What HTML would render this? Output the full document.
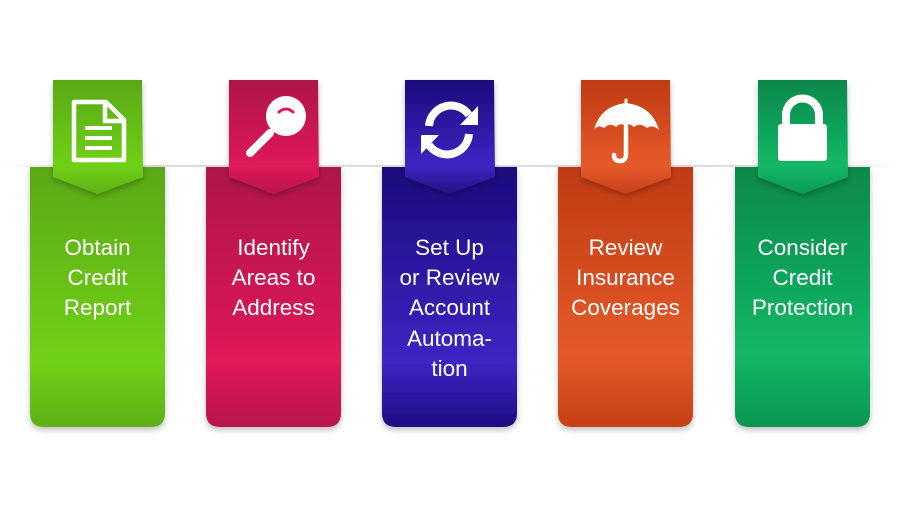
<!DOCTYPE html>
<html><head><meta charset="utf-8"><style>
body{margin:0;background:#fff;width:900px;height:506px;overflow:hidden}
text{font-family:"Liberation Sans",sans-serif;font-size:22.5px;fill:#fff;text-anchor:middle}
</style></head><body>
<svg width="900" height="506" viewBox="0 0 900 506" xmlns="http://www.w3.org/2000/svg">
<defs>
<linearGradient id="line" x1="0" x2="1"><stop offset="0" stop-color="#ddd" stop-opacity="0"/><stop offset=".1" stop-color="#ddd"/><stop offset=".9" stop-color="#ddd"/><stop offset="1" stop-color="#ddd" stop-opacity="0"/></linearGradient>
<filter id="sh" x="-20%" y="-10%" width="140%" height="130%"><feDropShadow dx="0" dy="3" stdDeviation="3" flood-color="#000" flood-opacity=".25"/></filter>
<linearGradient id="c1" x1="0" y1="0" x2="0" y2="1"><stop offset="0" stop-color="#5aa812"/><stop offset=".75" stop-color="#70d116"/><stop offset="1" stop-color="#5eb012"/></linearGradient>
<linearGradient id="c2" x1="0" y1="0" x2="0" y2="1"><stop offset="0" stop-color="#ae1248"/><stop offset=".75" stop-color="#e01a5a"/><stop offset="1" stop-color="#b8144c"/></linearGradient>
<linearGradient id="c3" x1="0" y1="0" x2="0" y2="1"><stop offset="0" stop-color="#1b0a7c"/><stop offset=".75" stop-color="#3e25c4"/><stop offset="1" stop-color="#1e0c84"/></linearGradient>
<linearGradient id="c4" x1="0" y1="0" x2="0" y2="1"><stop offset="0" stop-color="#c03a12"/><stop offset=".72" stop-color="#e55a2a"/><stop offset="1" stop-color="#c63f15"/></linearGradient>
<linearGradient id="c5" x1="0" y1="0" x2="0" y2="1"><stop offset="0" stop-color="#0f884b"/><stop offset=".72" stop-color="#12b866"/><stop offset="1" stop-color="#0f9552"/></linearGradient>
<linearGradient id="t1" x1="0" y1="0" x2="0" y2="1"><stop offset="0" stop-color="#5aa812"/><stop offset=".75" stop-color="#6fd016"/><stop offset="1" stop-color="#5fb213"/></linearGradient>
<linearGradient id="t2" x1="0" y1="0" x2="0" y2="1"><stop offset="0" stop-color="#ae1248"/><stop offset=".75" stop-color="#e01a5a"/><stop offset="1" stop-color="#b8144c"/></linearGradient>
<linearGradient id="t3" x1="0" y1="0" x2="0" y2="1"><stop offset="0" stop-color="#1b0a7c"/><stop offset=".75" stop-color="#3e25c4"/><stop offset="1" stop-color="#221082"/></linearGradient>
<linearGradient id="t4" x1="0" y1="0" x2="0" y2="1"><stop offset="0" stop-color="#c03a12"/><stop offset=".75" stop-color="#e55a2a"/><stop offset="1" stop-color="#c8401a"/></linearGradient>
<linearGradient id="t5" x1="0" y1="0" x2="0" y2="1"><stop offset="0" stop-color="#0f884b"/><stop offset=".75" stop-color="#12b866"/><stop offset="1" stop-color="#109a55"/></linearGradient>
</defs>
<rect x="0" y="165" width="900" height="2" fill="url(#line)"/>
<g filter="url(#sh)">
<path d="M30 167H165V413Q165 427 151 427H44Q30 427 30 413Z" fill="url(#c1)"/>
<path d="M206 167H341V413Q341 427 327 427H220Q206 427 206 413Z" fill="url(#c2)"/>
<path d="M382 167H517V413Q517 427 503 427H396Q382 427 382 413Z" fill="url(#c3)"/>
<path d="M558 167H693V413Q693 427 679 427H572Q558 427 558 413Z" fill="url(#c4)"/>
<path d="M735 167H870V413Q870 427 856 427H749Q735 427 735 413Z" fill="url(#c5)"/>
</g>
<g filter="url(#sh)">
<path d="M53 80H142L143 177L97.5 194L53 177Z" fill="url(#t1)"/>
<path d="M229 80H318L319 177L273.5 194L229 177Z" fill="url(#t2)"/>
<path d="M405 80H494L495 177L449.5 194L405 177Z" fill="url(#t3)"/>
<path d="M581 80H670L671 177L625.5 194L581 177Z" fill="url(#t4)"/>
<path d="M758 80H847L848 177L802.5 194L758 177Z" fill="url(#t5)"/>
</g>
<!-- icons -->
<g fill="none" stroke="#fff" stroke-width="4.5">
<path d="M74 102H106L124 120V160H74Z" stroke-linejoin="round"/>
<path d="M105 102V121H124"/>
<path d="M85 128H112M85 138H112M85 148H112" stroke-width="4"/>
</g>
<circle cx="286" cy="116" r="20" fill="#fff"/>
<path d="M270 133L250 153" stroke="#fff" stroke-width="8" stroke-linecap="round"/>
<path d="M279 112Q286 106 293 112" stroke="#e0195a" stroke-width="3" fill="none" stroke-linecap="round"/>
<g fill="none" stroke="#fff" stroke-width="8">
<path d="M429 126A22 22 0 0 1 469 115"/>
<path d="M469 134A22 22 0 0 1 429 145"/>
</g>
<path d="M478 106V125H460Z" fill="#fff"/><path d="M421 154V135H439Z" fill="#fff"/>
<path d="M594 130Q600 106 626 103Q652 106 659 130Q653 124 647 128Q640 122 634 127Q628 122 626 126Q620 122 616 127Q610 122 604 128Q598 124 594 130Z" fill="#fff"/>
<path d="M626 100V104" stroke="#fff" stroke-width="3" stroke-linecap="round"/>
<path d="M626 126V154Q626 161 620 161Q614 161 614 155" stroke="#fff" stroke-width="4.5" fill="none" stroke-linecap="round"/>
<path d="M786 124V115A16.5 16.5 0 0 1 819 115V124" stroke="#fff" stroke-width="8" fill="none"/>
<rect x="778" y="124" width="49" height="37" rx="3" fill="#fff"/>
<text x="97.5" y="255">Obtain</text><text x="97.5" y="285">Credit</text><text x="97.5" y="315">Report</text>
<text x="273.5" y="255">Identify</text><text x="273.5" y="285">Areas to</text><text x="273.5" y="315">Address</text>
<text x="449.5" y="255">Set Up</text><text x="449.5" y="285">or Review</text><text x="449.5" y="315">Account</text><text x="449.5" y="346">Automa-</text><text x="449.5" y="376">tion</text>
<text x="625.5" y="255">Review</text><text x="625.5" y="285">Insurance</text><text x="625.5" y="315">Coverages</text>
<text x="802.5" y="255">Consider</text><text x="802.5" y="285">Credit</text><text x="802.5" y="315">Protection</text>
</svg>
</body></html>
